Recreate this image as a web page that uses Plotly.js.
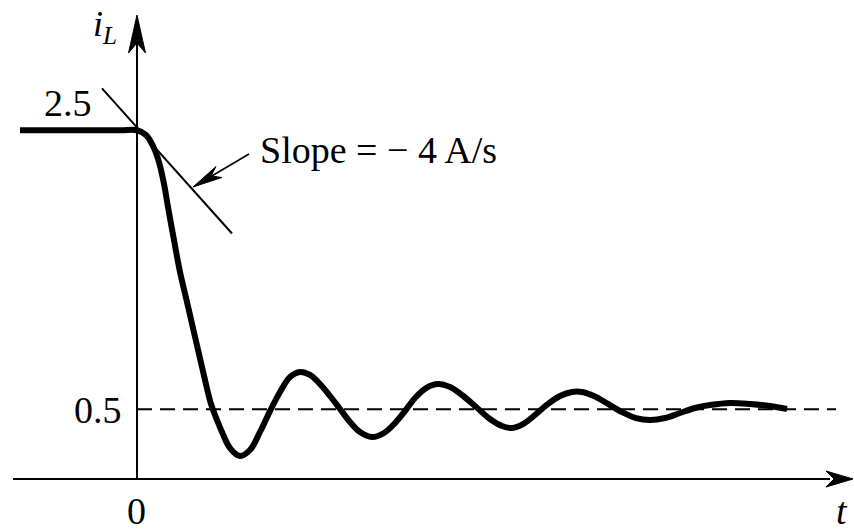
<!DOCTYPE html>
<html>
<head>
<meta charset="utf-8">
<script src="https://cdn.plot.ly/plotly-3.0.1.min.js"></script>
<style>html,body{margin:0;padding:0;background:#fff;}#chart{width:854px;height:531px;}</style>
</head>
<body>
<div id="chart"></div>
<script>
// ---- data (t in s, iL in A) ----
var tCurve = [-0.234, -0.034, 0, 0.018, 0.032, 0.044, 0.054, 0.062, 0.074, 0.086, 0.100, 0.112, 0.124, 0.136, 0.148, 0.160, 0.170, 0.186, 0.206, 0.226, 0.246, 0.266, 0.286, 0.306, 0.326, 0.346, 0.366, 0.386, 0.406, 0.426, 0.446, 0.470, 0.494, 0.516, 0.536, 0.556, 0.578, 0.602, 0.626, 0.650, 0.676, 0.706, 0.730, 0.750, 0.772, 0.796, 0.822, 0.846, 0.870, 0.890, 0.914, 0.942, 0.970, 0.998, 1.026, 1.056, 1.086, 1.116, 1.146, 1.186, 1.226, 1.266, 1.300];
var iCurve = [2.5, 2.5, 2.5, 2.466, 2.387, 2.272, 2.115, 1.950, 1.713, 1.484, 1.269, 1.082, 0.896, 0.710, 0.538, 0.423, 0.337, 0.222, 0.165, 0.208, 0.337, 0.487, 0.624, 0.731, 0.767, 0.746, 0.681, 0.595, 0.502, 0.409, 0.337, 0.301, 0.330, 0.401, 0.487, 0.581, 0.652, 0.681, 0.659, 0.602, 0.523, 0.430, 0.380, 0.366, 0.394, 0.459, 0.538, 0.595, 0.624, 0.624, 0.595, 0.538, 0.480, 0.437, 0.423, 0.437, 0.473, 0.509, 0.530, 0.545, 0.538, 0.523, 0.502];
var tFinal = [0, 1.398];
var iFinal = [0.5, 0.5];
var tTangent = [-0.07, 0.19];
var iTangent = [2.80, 1.76];
var tickLabels = {initial: "2.5", final: "0.5", origin: "0"};
var slopeLabel = "Slope = \u2212 4 A/s";

// ---- layout geometry ----
var W = 854, H = 531;
var X0 = 137, XS = 500;   // px of t=0, px per second
var Y0 = 479, YS = 139.5; // px of iL=0, px per ampere
function px(x){ return x / W; }
function py(y){ return 1 - y / H; }
function P(pts){ return pts.map(function(p,i){ return (i===0?'M':'L') + px(p[0]).toFixed(5) + ',' + py(p[1]).toFixed(5); }).join(' ') + ' Z'; }

var font = {family: "Liberation Serif, Times New Roman, serif", size: 38, color: "#000"};

var traces = [
  {x: tFinal, y: iFinal, mode: "lines", line: {color: "#000", width: 2, dash: "15px,8px"}, hoverinfo: "skip"},
  {x: tTangent, y: iTangent, mode: "lines", line: {color: "#000", width: 2}, hoverinfo: "skip"},
  {x: tCurve, y: iCurve, mode: "lines", line: {color: "#000", width: 6, shape: "spline", smoothing: 1}, hoverinfo: "skip"}
];

var shapes = [
  // x axis
  {type: "line", xref: "paper", yref: "paper", x0: px(13), y0: py(479), x1: px(830), y1: py(479), line: {color: "#000", width: 2.2}},
  {type: "path", xref: "paper", yref: "paper", path: P([[853,479],[826,471],[834,479],[826,487]]), fillcolor: "#000", line: {color: "#000", width: 1}},
  // y axis
  {type: "line", xref: "paper", yref: "paper", x0: px(137), y0: py(479), x1: px(137), y1: py(44), line: {color: "#000", width: 2}},
  {type: "path", xref: "paper", yref: "paper", path: P([[137,15],[128.5,53],[137,43],[145.5,53]]), fillcolor: "#000", line: {color: "#000", width: 1}},
  // slope pointer
  {type: "line", xref: "paper", yref: "paper", x0: px(249), y0: py(154), x1: px(205), y1: py(180), line: {color: "#000", width: 1.6}},
  {type: "path", xref: "paper", yref: "paper", path: P([[193,187],[216,166.5],[211,176],[222,177.5]]), fillcolor: "#000", line: {color: "#000", width: 1}}
];

var annotations = [
  {xref: "paper", yref: "paper", x: px(94), y: py(103), xanchor: "right", yanchor: "middle", text: tickLabels.initial, showarrow: false, font: font},
  {xref: "paper", yref: "paper", x: px(124), y: py(410), xanchor: "right", yanchor: "middle", text: tickLabels.final, showarrow: false, font: font},
  {xref: "paper", yref: "paper", x: px(136), y: py(511), xanchor: "center", yanchor: "middle", text: tickLabels.origin, showarrow: false, font: font},
  {xref: "paper", yref: "paper", x: px(842), y: py(511), xanchor: "center", yanchor: "middle", text: "<i>t</i>", showarrow: false, font: font},
  {xref: "paper", yref: "paper", x: px(91), y: py(27), xanchor: "left", yanchor: "middle", text: "<i>i</i><sub><i>L</i></sub>", showarrow: false, font: {family: font.family, size: 36, color: "#000"}},
  {xref: "paper", yref: "paper", x: px(258), y: py(150), xanchor: "left", yanchor: "middle", text: slopeLabel, showarrow: false, font: font}
];

var layout = {
  width: W, height: H,
  margin: {l: 0, r: 0, t: 0, b: 0, pad: 0},
  paper_bgcolor: "#fff", plot_bgcolor: "#fff",
  showlegend: false,
  xaxis: {visible: false, range: [(0 - X0) / XS, (W - X0) / XS], fixedrange: true},
  yaxis: {visible: false, range: [(Y0 - H) / YS, Y0 / YS], fixedrange: true},
  shapes: shapes,
  annotations: annotations
};

Plotly.newPlot("chart", traces, layout, {displayModeBar: false, staticPlot: true});
</script>
</body>
</html>
